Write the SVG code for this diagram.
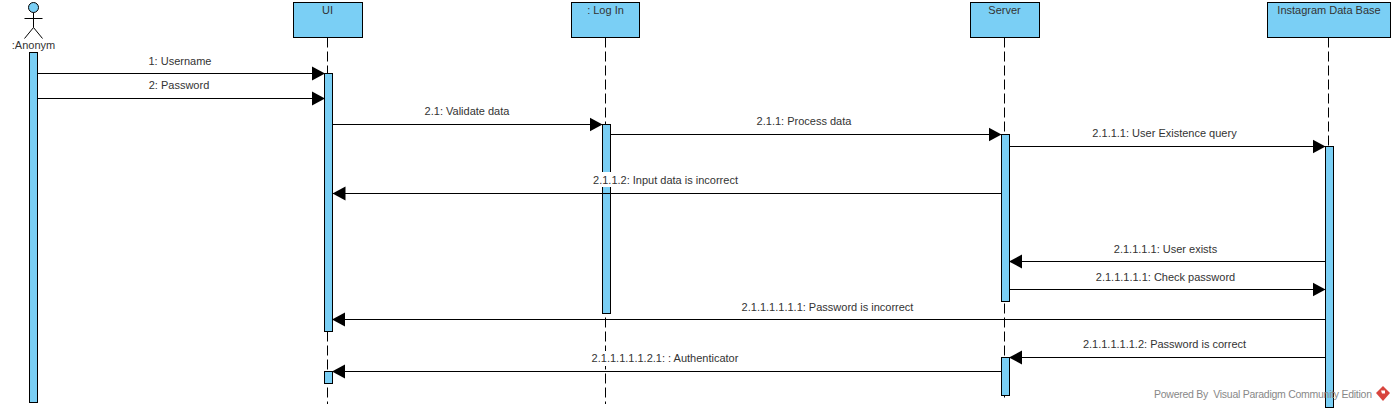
<svg xmlns="http://www.w3.org/2000/svg" width="1395" height="411" viewBox="0 0 1395 411">
<style>
.b{fill:#7acff5;stroke:#000;stroke-width:1}
.t{font-family:"Liberation Sans",Arial,sans-serif;font-size:11px;fill:#333;text-anchor:middle}
.l{stroke:#000;stroke-width:1;fill:none}
.d{stroke:#000;stroke-width:1;stroke-dasharray:10 4;fill:none}
.m{stroke:#000;stroke-width:1;fill:none;marker-end:url(#a)}
.w{fill:#fff}
</style>
<defs><marker id="a" markerUnits="userSpaceOnUse" markerWidth="15" markerHeight="16" refX="13" refY="8" orient="auto"><path d="M0 1 L13 8 L0 15 Z" fill="#000"/></marker></defs>
<rect width="1395" height="411" fill="#fff"/>
<g id="lifelines">
<line class="d" x1="327.5" y1="37.5" x2="327.5" y2="404"/>
<line class="d" x1="605.5" y1="37.5" x2="605.5" y2="404"/>
<line class="d" x1="1004.5" y1="37.5" x2="1004.5" y2="398"/>
<line class="d" x1="1328.5" y1="37.5" x2="1328.5" y2="146"/>
</g>
<g id="actor-anonym">
<circle class="b" cx="33.5" cy="7.5" r="5"/>
<path class="l" d="M33.5 12.5V27.5M24.5 18.5H42.5M33.5 27.5L24.5 38.5M33.5 27.5L42.5 38.5"/>
<text class="t" x="33.5" y="49">:Anonym</text>
<rect class="b" x="29.5" y="52.5" width="8" height="350"/>
</g>
<g id="node-ui">
<rect class="b" x="293.5" y="2.5" width="69" height="35"/>
<text class="t" x="327.5" y="14">UI</text>
<rect class="b" x="324.5" y="73.5" width="8" height="258"/>
<rect class="b" x="324.5" y="371.5" width="8" height="12"/>
</g>
<g id="node-login">
<rect class="b" x="571.5" y="2.5" width="68" height="35"/>
<text class="t" x="605.5" y="14">: Log In</text>
<rect class="b" x="602.5" y="124.5" width="8" height="189"/>
</g>
<g id="node-server">
<rect class="b" x="970.5" y="2.5" width="69" height="35"/>
<text class="t" x="1004.5" y="14">Server</text>
<rect class="b" x="1001.5" y="134.5" width="8" height="167"/>
<rect class="b" x="1001.5" y="357.5" width="8" height="38"/>
</g>
<g id="node-database">
<rect class="b" x="1267.5" y="2.5" width="123" height="35"/>
<text class="t" x="1329" y="14">Instagram Data Base</text>
<rect class="b" x="1325.5" y="146.5" width="8" height="261"/>
</g>
<g id="connectors">
<rect class="w" x="592" y="172" width="148" height="15"/>
<rect class="w" x="590" y="351" width="150" height="15"/>
<line class="m" x1="37.5" y1="73.5" x2="325" y2="73.5"/>
<line class="m" x1="37.5" y1="98.5" x2="325" y2="98.5"/>
<line class="m" x1="332.5" y1="124.5" x2="602.5" y2="124.5"/>
<line class="m" x1="610.5" y1="134.5" x2="1001.5" y2="134.5"/>
<line class="m" x1="1009.5" y1="146.5" x2="1325.5" y2="146.5"/>
<line class="m" x1="1001.5" y1="193.5" x2="332.5" y2="193.5"/>
<line class="m" x1="1325.5" y1="261.5" x2="1009" y2="261.5"/>
<line class="m" x1="1009.5" y1="289.5" x2="1325.5" y2="289.5"/>
<line class="m" x1="1325.5" y1="319.5" x2="332" y2="319.5"/>
<line class="m" x1="1325.5" y1="357.5" x2="1009" y2="357.5"/>
<line class="m" x1="1001.5" y1="371.5" x2="332" y2="371.5"/>
<text class="t" x="180" y="65">1: Username</text>
<text class="t" x="179" y="89">2: Password</text>
<text class="t" x="467" y="115">2.1: Validate data</text>
<text class="t" x="804" y="125">2.1.1: Process data</text>
<text class="t" x="1164.5" y="137">2.1.1.1: User Existence query</text>
<text class="t" x="665.5" y="184">2.1.1.2: Input data is incorrect</text>
<text class="t" x="1165.5" y="253">2.1.1.1.1: User exists</text>
<text class="t" x="1165.5" y="281">2.1.1.1.1.1: Check password</text>
<text class="t" x="827.5" y="311">2.1.1.1.1.1.1: Password is incorrect</text>
<text class="t" x="1164.5" y="348">2.1.1.1.1.1.2: Password is correct</text>
<text class="t" x="665" y="362">2.1.1.1.1.1.2.1: : Authenticator</text>
</g>
<g id="watermark">
<text x="1154" y="398" textLength="218" style="font-family:'Liberation Sans',Arial,sans-serif;font-size:10.5px;fill:#888">Powered By&#160; Visual Paradigm Community Edition</text>
<path d="M1383 386L1390 393L1383 401L1376 393Z" fill="#d8453e"/>
<path d="M1381 390.500h4v3h-3z" fill="#fff"/>
</g>
</svg>
